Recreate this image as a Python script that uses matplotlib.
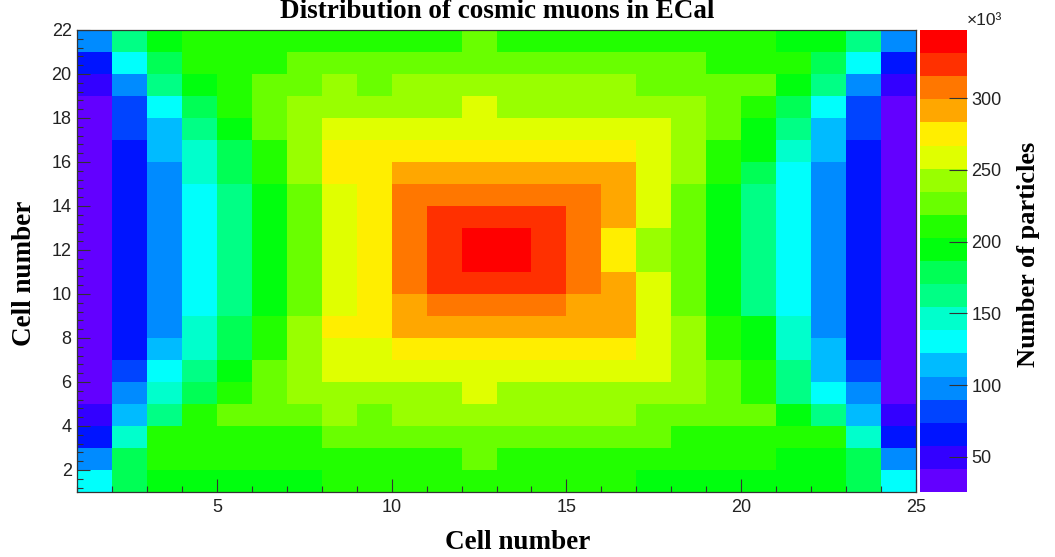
import numpy as np
import matplotlib
matplotlib.use("Agg")
import matplotlib.pyplot as plt
from matplotlib.colors import ListedColormap, BoundaryNorm
from matplotlib.ticker import MultipleLocator, FixedLocator

# ---------------- data (counts, in units of 10^3) ----------------
x_edges = list(range(1, 26))   # cell number along x: 1..25 (24 cells)
y_edges = list(range(1, 23))   # cell number along y: 1..22 (21 cells)

# rows listed from top (y = 21..22) to bottom (y = 1..2)
counts_top_to_bottom = [
    [98,162,195,211,211,211,211,211,211,211,211,227,211,211,211,211,211,211,211,211,195,195,162,98],
    [66,130,178,211,211,211,227,227,227,227,227,227,227,227,227,227,227,227,211,211,211,178,130,66],
    [50,98,162,195,211,227,227,243,227,243,243,243,243,243,243,243,227,227,227,227,195,162,98,50],
    [34,82,130,178,211,227,243,243,243,243,243,259,243,243,243,243,243,243,227,211,178,130,82,34],
    [34,82,114,162,195,227,243,259,259,259,259,259,259,259,259,259,259,243,227,195,162,114,82,34],
    [34,66,114,146,178,211,243,275,275,275,275,275,275,275,275,275,259,243,211,195,146,114,66,34],
    [34,66,98,146,178,211,243,275,275,291,291,291,291,291,291,291,259,243,211,178,130,98,66,34],
    [34,66,98,130,162,195,227,259,275,307,307,307,307,307,307,291,259,227,195,162,130,98,66,34],
    [34,66,98,130,162,195,227,259,275,307,323,323,323,323,307,291,259,227,195,162,130,98,66,34],
    [34,66,98,130,162,195,227,259,275,307,323,339,339,323,307,275,243,227,195,162,130,98,66,34],
    [34,66,98,130,162,195,227,259,275,307,323,339,339,323,307,275,243,227,195,162,130,98,66,34],
    [34,66,98,130,162,195,227,259,275,307,323,323,323,323,307,291,259,227,195,162,130,98,66,34],
    [34,66,98,130,162,195,227,259,275,291,307,307,307,307,291,291,259,227,195,162,130,98,66,34],
    [34,66,98,146,178,211,243,275,275,291,291,291,291,291,291,291,259,243,211,195,146,98,66,34],
    [34,66,114,146,178,211,243,259,259,275,275,275,275,275,275,275,259,243,211,195,146,114,66,34],
    [34,82,130,162,195,227,243,259,259,259,259,259,259,259,259,259,259,243,227,211,162,114,82,34],
    [34,98,146,178,211,227,243,243,243,243,243,259,243,243,243,243,243,243,227,211,162,130,98,34],
    [50,114,162,211,227,227,227,243,227,243,243,243,243,243,243,243,227,227,227,227,195,162,114,50],
    [66,146,211,211,211,211,211,227,227,227,227,227,227,227,227,227,227,211,211,211,211,211,146,66],
    [98,178,211,211,211,211,211,211,211,211,211,227,211,211,211,211,211,211,211,211,195,195,178,98],
    [130,178,195,195,195,195,195,211,211,211,211,211,211,211,211,211,195,195,195,195,195,195,178,130],
]

x_ticks = [5, 10, 15, 20, 25]
y_ticks = [2, 4, 6, 8, 10, 12, 14, 16, 18, 20, 22]
z_ticks = [50, 100, 150, 200, 250, 300]
z_range = (25.6, 347.4)

title = "Distribution of cosmic muons in ECal"
x_title = "Cell number"
y_title = "Cell number"
z_title = "Number of particles"

# ---------------- style ----------------
palette = ["#6300ff", "#3300ff", "#0014ff", "#0044ff", "#008bff",
           "#00bbff", "#00fffc", "#00ffcc", "#00ff85", "#00ff55",
           "#00ff0e", "#22ff00", "#69ff00", "#99ff00", "#e0ff00",
           "#ffee00", "#ffa700", "#ff7700", "#ff3000", "#ff0000"]
n_levels = len(palette)

W, H = 1055, 557
fig = plt.figure(figsize=(W / 100, H / 100), dpi=100)
fig.patch.set_facecolor("white")

L, R, T, B = 77.3, 915.7, 30.0, 492.0
ax = fig.add_axes([L / W, 1 - B / H, (R - L) / W, (B - T) / H])
cax = fig.add_axes([920 / W, 1 - B / H, 47 / W, (B - T) / H])

Z = np.array(counts_top_to_bottom[::-1], dtype=float)
levels = np.linspace(z_range[0], z_range[1], n_levels + 1)
cmap = ListedColormap(palette)
norm = BoundaryNorm(levels, n_levels)

mesh = ax.pcolormesh(x_edges, y_edges, Z, cmap=cmap, norm=norm,
                     edgecolors="none", antialiased=False)
ax.set_xlim(x_edges[0], x_edges[-1])
ax.set_ylim(y_edges[0], y_edges[-1])

tick_font = "Liberation Sans"
title_font = "Liberation Serif"
axcol = "#333333"

ax.xaxis.set_major_locator(FixedLocator(x_ticks))
ax.xaxis.set_minor_locator(MultipleLocator(1))
ax.yaxis.set_major_locator(FixedLocator(y_ticks))
ax.yaxis.set_minor_locator(MultipleLocator(0.4))
ax.tick_params(which="both", direction="in", top=False, right=False,
               color=axcol, width=0.8)
ax.tick_params(which="major", length=9.5)
ax.tick_params(which="minor", length=4.5)
ax.tick_params(axis="x", which="major", pad=5)
ax.tick_params(axis="y", which="major", pad=4)
for lab in ax.get_xticklabels() + ax.get_yticklabels():
    lab.set_fontfamily(tick_font)
    lab.set_fontsize(13)
    lab.set_color("#222222")
for sp in ax.spines.values():
    sp.set_color(axcol)
    sp.set_linewidth(0.9)

cb = fig.colorbar(mesh, cax=cax, ticks=z_ticks)
cb.outline.set_visible(False)
cax.minorticks_off()
cax.yaxis.set_ticks_position("right")
cax.tick_params(direction="in", length=13, width=0.8, color=axcol, pad=3)
cax.set_yticklabels([str(t) for t in z_ticks])
for lab in cax.get_yticklabels():
    lab.set_fontfamily(tick_font)
    lab.set_fontsize(13)
    lab.set_color("#222222")

fig.text(967 / W, 1 - 25 / H, "\u00d710\u00b3", fontfamily=tick_font,
         fontsize=12.5, ha="left", va="baseline", color="#222222")

fig.text(497.5 / W, 1 - 18 / H, title, fontfamily=title_font,
         fontweight="bold", fontsize=19.5, ha="center", va="baseline")
fig.text(518 / W, 1 - 549 / H, x_title, fontfamily=title_font,
         fontweight="bold", fontsize=19.5, ha="center", va="baseline")
fig.text(25 / W, 1 - 273 / H, y_title, fontfamily=title_font,
         fontweight="bold", fontsize=19.5, ha="center", va="center",
         rotation=90)
fig.text(1028 / W, 1 - 254 / H, z_title, fontfamily=title_font,
         fontweight="bold", fontsize=19, ha="center", va="center",
         rotation=90)

fig.savefig("out.png", dpi=100)
